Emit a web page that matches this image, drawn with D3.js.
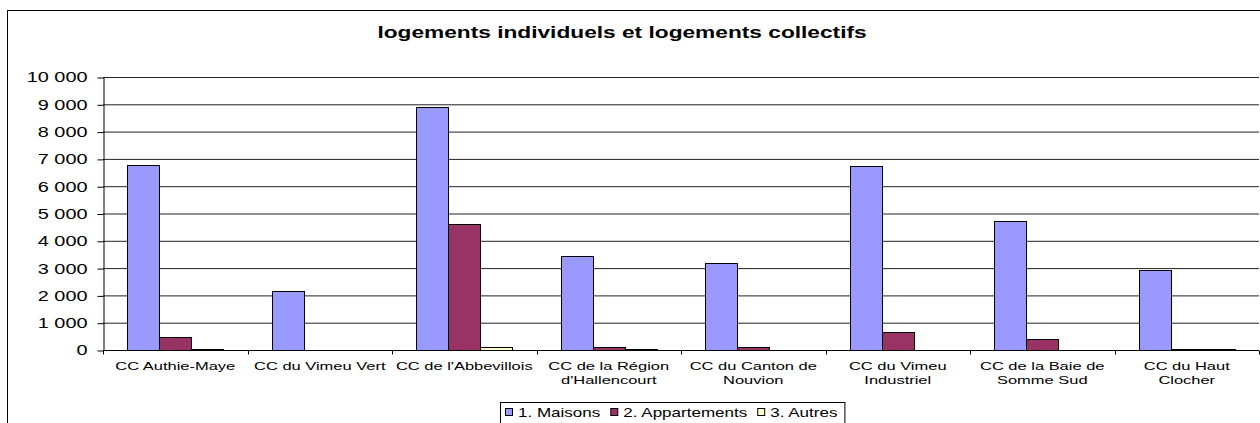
<!DOCTYPE html>
<html>
<head>
<meta charset="utf-8">
<script src="https://cdn.jsdelivr.net/npm/d3@7"></script>
<style>
	body { margin: 0; background: #fff; }
	text { font-family: Arial, "Liberation Sans", sans-serif; fill: #000; }
</style>
</head>
<body>
<div id="chart"></div>
<script>

var title = "logements individuels et logements collectifs";

var categories = [
	"CC Authie-Maye", "CC du Vimeu Vert", "CC de l'Abbevillois", "CC de la Région d'Hallencourt",
	"CC du Canton de Nouvion", "CC du Vimeu Industriel", "CC de la Baie de Somme Sud", "CC du Haut Clocher"
];
// how each category label is broken on the axis
var tickLabels = [
	["CC Authie-Maye"], ["CC du Vimeu Vert"], ["CC de l'Abbevillois"], ["CC de la Région", "d'Hallencourt"],
	["CC du Canton de", "Nouvion"], ["CC du Vimeu", "Industriel"], ["CC de la Baie de", "Somme Sud"], ["CC du Haut", "Clocher"]
];

var seriesNames = ["1. Maisons", "2. Appartements", "3. Autres"];
var maisons      = [6780, 2190, 8920, 3450, 3210, 6760, 4740, 2950];
var appartements = [490, 0, 4620, 110, 110, 690, 410, 70];
var autres       = [70, 0, 110, 40, 0, 30, 30, 40];
var seriesColors = ["#9999ff", "#993366", "#ffffcc"];

var yTicks = [0, 1000, 2000, 3000, 4000, 5000, 6000, 7000, 8000, 9000, 10000];

var W = 1260, H = 423;
var sx = 1.42; // the source picture is stretched horizontally

var svg = d3.select('#chart').append('svg')
	.attr('width', W).attr('height', H);

// outer chart border (cut by the picture on the right and bottom)
svg.append('rect')
	.attr('x', 7.5).attr('y', 10.5)
	.attr('width', 1300).attr('height', 500)
	.attr('fill', 'none').attr('stroke', '#000');

function stretchedText(g, x, y, str) {
	return g.append('text')
		.attr('transform', 'translate(' + x + ',' + y + ') scale(' + sx + ',1)')
		.text(str);
}

stretchedText(svg, 622, 38, title)
	.attr('text-anchor', 'middle')
	.style('font-size', '16px')
	.style('font-weight', 'bold');

var x0 = d3.scaleBand().domain(categories).range([103, 1259]);
var x1 = d3.scaleBand().domain(seriesNames).range([0, x0.bandwidth()]).paddingOuter(0.75);
var y = d3.scaleLinear().domain([0, 10000]).range([350.5, 77.5]);

// gridlines
svg.append('g').selectAll('line')
	.data(yTicks.slice(1))
	.enter().append('line')
	.attr('x1', 103).attr('x2', 1259)
	.attr('y1', function(d) { return y(d); })
	.attr('y2', function(d) { return y(d); })
	.attr('stroke', '#222');

// y axis
var fmt = function(d) { return d3.format(',')(d).replace(/,/g, ' '); };
var yAxis = svg.append('g')
	.attr('transform', 'translate(103.5,0)')
	.call(d3.axisLeft(y).tickValues(yTicks).tickFormat(fmt).tickSize(6).tickSizeOuter(0));
yAxis.select('.domain').attr('stroke', '#000');
yAxis.selectAll('.tick line').attr('stroke', '#000');
yAxis.selectAll('.tick text')
	.attr('x', -16 / sx)
	.attr('transform', 'scale(' + sx + ',1)')
	.attr('font-family', null).attr('font-size', null)
	.style('font-size', '14px');

// bars
var series = [maisons, appartements, autres];
var groups = svg.append('g').selectAll('g')
	.data(series)
	.enter().append('g')
	.attr('fill', function(d, i) { return seriesColors[i]; });

groups.selectAll('rect')
	.data(function(vals, i) {
		return vals.map(function(v, j) { return { cat: categories[j], s: seriesNames[i], v: v }; });
	})
	.enter().append('rect')
	.filter(function(d) { return d.v > 0; })
	.attr('x', function(d) { return Math.round(x0(d.cat) + x1(d.s)) + 0.5; })
	.attr('width', Math.round(x1.bandwidth()))
	.attr('y', function(d) { return Math.round(y(d.v)) + 0.5; })
	.attr('height', function(d) { return Math.max(0, y(0) - Math.round(y(d.v)) - 0.5); })
	.attr('stroke', '#000');

// x axis
var xAxis = svg.append('g');
xAxis.append('line')
	.attr('x1', 103).attr('x2', 1259)
	.attr('y1', y(0)).attr('y2', y(0))
	.attr('stroke', '#000');
var bounds = categories.map(function(c) { return x0(c); }).concat([x0.range()[1]]);
xAxis.selectAll('line.tk')
	.data(bounds)
	.enter().append('line')
	.attr('class', 'tk')
	.attr('x1', function(d) { return Math.round(d) + 0.5; })
	.attr('x2', function(d) { return Math.round(d) + 0.5; })
	.attr('y1', y(0)).attr('y2', y(0) + 4)
	.attr('stroke', '#000');

categories.forEach(function(c, i) {
	tickLabels[i].forEach(function(line, k) {
		stretchedText(xAxis, x0(c) + x0.bandwidth() / 2, 370 + k * 14, line)
			.attr('text-anchor', 'middle')
			.style('font-size', '11.6px');
	});
});

// legend
var legend = svg.append('g');
var lx = 505;
seriesNames.forEach(function(name, i) {
	legend.append('rect')
		.attr('x', lx + 0.5).attr('y', 408.5)
		.attr('width', 7).attr('height', 7)
		.attr('fill', seriesColors[i]).attr('stroke', '#000');
	var t = stretchedText(legend, lx + 13, 417, name).style('font-size', '12px');
	lx += 13 + t.node().getComputedTextLength() * sx + 10;
});
legend.insert('rect', ':first-child')
	.attr('x', 500.5).attr('y', 402.5)
	.attr('width', lx - 500 - 3).attr('height', 40)
	.attr('fill', '#fff').attr('stroke', '#000');

</script>
</body>
</html>
